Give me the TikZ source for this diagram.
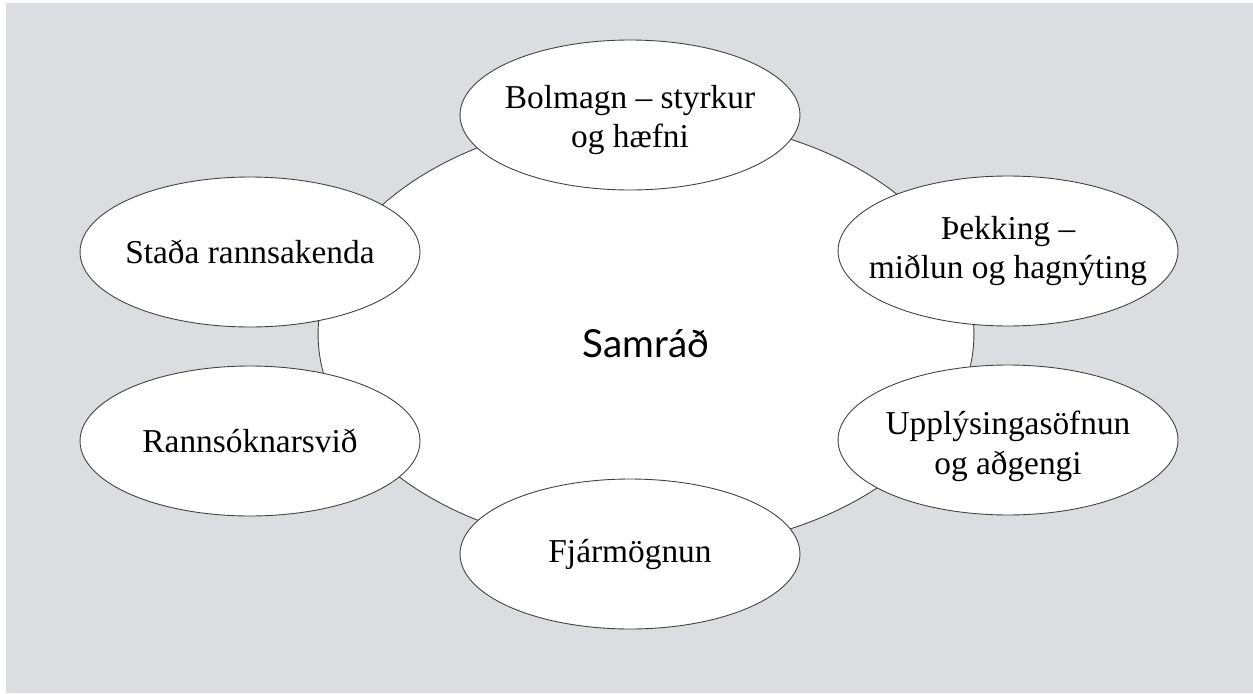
\documentclass[tikz,border=0pt]{standalone}
\usepackage{fontspec}
\setmainfont{Liberation Serif}
\newfontfamily\hubfont{Lato}
\usetikzlibrary{shapes.geometric}
\definecolor{bggray}{RGB}{220,221,224}
\tikzset{
  blob/.style={ellipse, draw=black!75, line width=0.5pt, fill=white,
    minimum width=6.8cm, minimum height=3cm, inner sep=0pt},
  blobtext/.style={align=center, inner sep=0pt,
    font=\fontsize{19}{22.7}\selectfont}
}
\begin{document}
\begin{tikzpicture}[x=0.02cm, y=-0.02cm]
    \useasboundingbox (0,0) rectangle (1253,693);
    % grey panel
    \fill[bggray] (6,3) rectangle (1253,693);
    % big ellipse, center 646 334
    \node[blob, minimum width=13.12cm, minimum height=8.68cm] (hub) at (646,334) {};
    \node[font=\hubfont\fontsize{22}{26}\selectfont] (hubtext) at (646,344) {Samráð};
    % top and bottom
    \node[blob, label={[blobtext, yshift=-0.1cm]center:Bolmagn – styrkur\\og hæfni}] (bolmagn) at (630,115) {};
    \node[blob, label={[blobtext]center:Fjármögnun}] (fjar) at (630,554) {};
    % left side
    \node[blob, label={[blobtext]center:Staða rannsakenda}] (stada) at (250,252) {};
    \node[blob, label={[blobtext]center:Rannsóknarsvið}] (rannsokn) at (250,441) {};
    % right side
    \node[blob, label={[blobtext]center:Þekking –\\miðlun og hagnýting}] (thekking) at (1008,251) {};
    \node[blob, label={[blobtext, yshift=-0.12cm]center:Upplýsingasöfnun\\og aðgengi}] (upplys) at (1008,440) {};
\end{tikzpicture}
\end{document}
